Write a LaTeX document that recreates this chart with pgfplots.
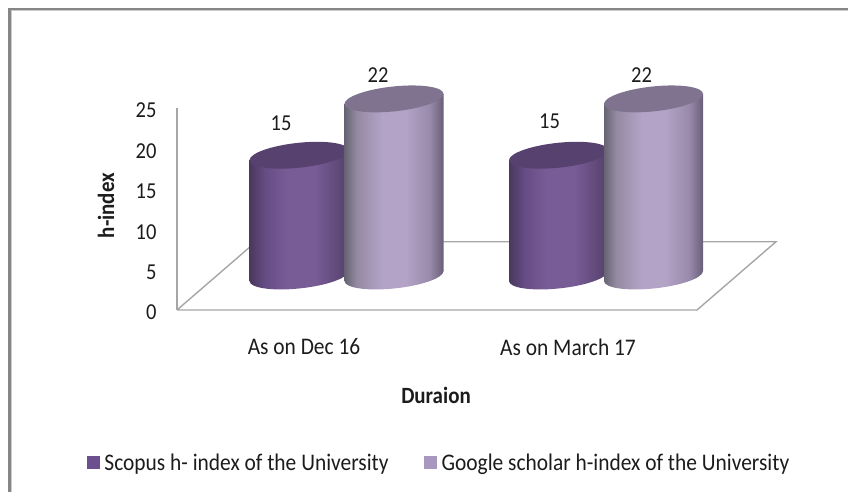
\documentclass[border=0pt]{standalone}
\usepackage{pgfplots}
\pgfplotsset{compat=1.18}
\usepackage{fontspec}
\setmainfont{Carlito}[FakeStretch=0.9]
\definecolor{gridgray}{HTML}{A6A6A6}
\definecolor{txt}{HTML}{1C1C1C}
\definecolor{legA}{HTML}{6B4F8E}
\definecolor{legB}{HTML}{A897BE}
\definecolor{topA}{HTML}{57416F}
\definecolor{topB}{HTML}{7F7390}
\pgfdeclarehorizontalshading{cylA}{100bp}{
 rgb(0bp)=(0.29,0.22,0.37);
 rgb(25bp)=(0.29,0.22,0.37);
 rgb(33bp)=(0.40,0.30,0.52);
 rgb(44bp)=(0.47,0.36,0.59);
 rgb(58bp)=(0.47,0.36,0.59);
 rgb(69bp)=(0.38,0.29,0.48);
 rgb(75bp)=(0.33,0.25,0.42);
 rgb(100bp)=(0.33,0.25,0.42)}
\pgfdeclarehorizontalshading{cylB}{100bp}{
 rgb(0bp)=(0.40,0.39,0.45);
 rgb(25bp)=(0.40,0.39,0.45);
 rgb(31bp)=(0.58,0.54,0.63);
 rgb(44bp)=(0.70,0.64,0.78);
 rgb(56bp)=(0.70,0.64,0.78);
 rgb(68bp)=(0.60,0.54,0.67);
 rgb(75bp)=(0.41,0.37,0.47);
 rgb(100bp)=(0.41,0.37,0.47)}
\pgfdeclareplotmark{captop}{\pgfpathellipse{\pgfpointorigin}{\pgfpoint{49.5bp}{4.95bp}}{\pgfpoint{0bp}{12.5bp}}\pgfusepathqfill}
\pgfdeclareplotmark{baseA}{\pgfpathellipse{\pgfpointorigin}{\pgfpoint{49.5bp}{4.95bp}}{\pgfpoint{0bp}{12.5bp}}\pgfshadepath{cylA}{0}\pgfusepath{discard}}
\pgfdeclareplotmark{baseB}{\pgfpathellipse{\pgfpointorigin}{\pgfpoint{49.5bp}{4.95bp}}{\pgfpoint{0bp}{12.5bp}}\pgfshadepath{cylB}{0}\pgfusepath{discard}}
\pgfplotsset{
 cyl/.style={hide axis, clip=false, anchor=origin,
   x={(1bp,0.1bp)}, y={(0bp,8.05bp)},
   xmin=-60, xmax=60, ymin=0, ymax=30},
 lab/.style n args={2}{nodes near coords={\pgfmathprintnumber{\pgfplotspointmeta}},
   point meta=y, /pgf/number format/assume math mode=true,
   every node near coord/.append style={anchor=center, xshift=#1, yshift=#2,
     font=\fontsize{22.8bp}{24bp}\selectfont, text=txt}}
}
\begin{document}
\begin{tikzpicture}
\path[use as bounding box] (0,0) rectangle (848bp,492bp);
\draw[color=gray!40, line width=1bp] (11bp,0bp) -- (11bp,481bp) -- (848bp,481bp);
\draw[color=gray!95, line width=2.6bp] (9.2bp,0bp) -- (9.2bp,482.8bp) -- (848bp,482.8bp);
\begin{axis}[
  at={(177bp,182bp)}, anchor=south west, scale only axis,
  width=599bp, height=202bp,
  xmin=177, xmax=776, ymin=0, ymax=25,
  clip=false,
  axis lines*=left,
  x axis line style={draw=none},
  y axis line style={draw=gridgray, line width=1.4bp},
  xtick={304,568}, xticklabels={As on Dec 16, As on March 17},
  ytick={0,5,10,15,20,25},
  tick style={draw=none},
  /pgf/number format/assume math mode=true,
  tick label style={text=txt},
  xticklabel style={yshift=-25bp, font=\fontsize{23.8bp}{25bp}\selectfont},
  yticklabel style={xshift=-17bp, yshift=-2.5bp, font=\fontsize{22.8bp}{24bp}\selectfont},
  legend style={at={(0.438,-0.757)}, anchor=center, draw=none, fill=none,
    legend columns=2, font=\fontsize{23.8bp}{25bp}\selectfont, text=txt,
    /tikz/every odd column/.append style={column sep=3bp},
    /tikz/every even column/.append style={column sep=34bp}},
  legend cell align=left,
]
\addlegendimage{only marks, mark=square*, mark size=6bp, mark options={fill=legA, draw=legA, line width=0pt}}
\addlegendentry{Scopus h- index of the University}
\addlegendimage{only marks, mark=square*, mark size=6bp, mark options={fill=legB, draw=legB, line width=0pt}}
\addlegendentry{Google scholar h-index of the University}
\addplot[draw=gridgray, line width=1.4bp, forget plot] coordinates
  {(177,0) (697,0) (776,8.45) (256,8.45) (177,0)};
\node[font=\bfseries\fontsize{23.3bp}{25bp}\selectfont, text=txt] at (axis cs:436,-10.6) {Duraion};
\node[font=\bfseries\fontsize{23.3bp}{25bp}\selectfont, text=txt, rotate=90] at (axis cs:106,12.93) {h-index};
\end{axis}
% cylinder 1
\begin{axis}[cyl, at={(299bp,216bp)}]
\addplot[only marks, mark=baseA] coordinates {(0,0)};
\addplot[shading=cylA, draw=none] coordinates {(-49.5,0) (-49.5,15) (49.5,15) (49.5,0)};
\addplot[only marks, mark=captop, mark options={fill=topA, draw=none}, lab={-18bp}{32bp}] coordinates {(0,15)};
\end{axis}
% cylinder 2
\begin{axis}[cyl, at={(394bp,216bp)}]
\addplot[only marks, mark=baseB] coordinates {(0,0)};
\addplot[shading=cylB, draw=none] coordinates {(-49.5,0) (-49.5,22) (49.5,22) (49.5,0)};
\addplot[only marks, mark=captop, mark options={fill=topB, draw=none}, lab={-16bp}{24bp}] coordinates {(0,22)};
\end{axis}
% cylinder 3
\begin{axis}[cyl, at={(558.5bp,216bp)}]
\addplot[only marks, mark=baseA] coordinates {(0,0)};
\addplot[shading=cylA, draw=none] coordinates {(-49.5,0) (-49.5,15) (49.5,15) (49.5,0)};
\addplot[only marks, mark=captop, mark options={fill=topA, draw=none}, lab={-9bp}{34bp}] coordinates {(0,15)};
\end{axis}
% cylinder 4
\begin{axis}[cyl, at={(653.5bp,216bp)}]
\addplot[only marks, mark=baseB] coordinates {(0,0)};
\addplot[shading=cylB, draw=none] coordinates {(-49.5,0) (-49.5,22) (49.5,22) (49.5,0)};
\addplot[only marks, mark=captop, mark options={fill=topB, draw=none}, lab={-12bp}{24bp}] coordinates {(0,22)};
\end{axis}
\end{tikzpicture}
\end{document}
